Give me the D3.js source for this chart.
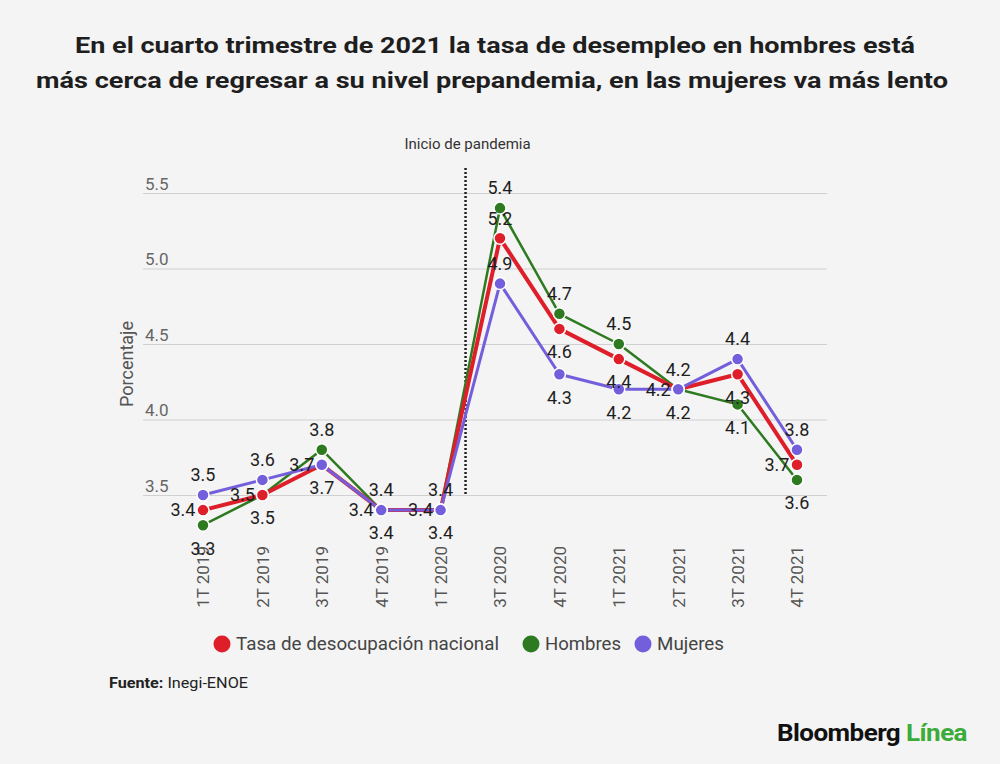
<!DOCTYPE html>
<html>
<head>
<meta charset="utf-8">
<script src="https://cdn.jsdelivr.net/npm/d3@7"></script>
<style>
  body { margin: 0; background: #f4f4f4; }
  svg { font-family: Roboto, 'Noto Sans', sans-serif; display: block; }
</style>
</head>
<body>
<svg width="1000" height="764"></svg>
<script>
const quarters = ['1T 2019', '2T 2019', '3T 2019', '4T 2019', '1T 2020', '3T 2020', '4T 2020', '1T 2021', '2T 2021', '3T 2021', '4T 2021'];
const nacional = [3.4, 3.5, 3.7, 3.4, 3.4, 5.2, 4.6, 4.4, 4.2, 4.3, 3.7];
const hombres  = [3.3, 3.5, 3.8, 3.4, 3.4, 5.4, 4.7, 4.5, 4.2, 4.1, 3.6];
const mujeres  = [3.5, 3.6, 3.7, 3.4, 3.4, 4.9, 4.3, 4.2, 4.2, 4.4, 3.8];
const yTicks = [3.5, 4.0, 4.5, 5.0, 5.5];
const seriesNames = ['Tasa de desocupación nacional', 'Hombres', 'Mujeres'];

// where each value label sits relative to its dot
const nacionalSide = ['left', 'left', 'left', 'left', 'left', 'above', 'below', 'below', 'left', 'below', 'left'];
const hombresSide  = ['below', 'below', 'above', 'above', 'above', 'above', 'above', 'above', 'above', 'below', 'below'];
const mujeresSide  = ['above', 'above', 'below', 'below', 'below', 'above', 'below', 'below', 'below', 'above', 'above'];

const svg = d3.select('svg');

const series = [
  { name: seriesNames[1], values: hombres, side: hombresSide, color: '#2e7a20', width: 2.5 },
  { name: seriesNames[0], values: nacional, side: nacionalSide, color: '#de1f2a', width: 4 },
  { name: seriesNames[2], values: mujeres, side: mujeresSide, color: '#735fdc', width: 3 }
];

const xScale = d3.scalePoint()
  .domain(quarters)
  .range([203, 797]);

const yScale = d3.scaleLinear()
  .domain([3.5, 5.5])
  .range([495, 193]);

// title
const title = svg.append('g')
  .attr('font-weight', 'bold')
  .attr('font-size', 22)
  .attr('fill', '#1e1e1e')
  .attr('text-anchor', 'middle');
title.append('text')
  .attr('x', 495).attr('y', 53)
  .attr('textLength', 840).attr('lengthAdjust', 'spacingAndGlyphs')
  .text('En el cuarto trimestre de 2021 la tasa de desempleo en hombres está');
title.append('text')
  .attr('x', 492).attr('y', 88)
  .attr('textLength', 912).attr('lengthAdjust', 'spacingAndGlyphs')
  .text('más cerca de regresar a su nivel prepandemia, en las mujeres va más lento');

// y grid + ticks
const yAxis = d3.axisLeft(yScale)
  .tickValues(yTicks)
  .tickSize(-(827 - 143))
  .tickFormat(d3.format('.1f'));

const yAxisG = svg.append('g')
  .attr('transform', 'translate(143,0)')
  .call(yAxis);
yAxisG.select('.domain').remove();
yAxisG.selectAll('.tick line').attr('stroke', '#d0d0d0').attr('stroke-width', 1);
yAxisG.selectAll('.tick text')
  .attr('x', 2).attr('dy', -4)
  .attr('text-anchor', 'start')
  .attr('font-size', 17)
  .attr('fill', '#666')
  .attr('font-family', 'Roboto, sans-serif');

svg.append('text')
  .attr('transform', 'translate(133,364) rotate(-90)')
  .attr('text-anchor', 'middle')
  .attr('font-size', 18)
  .attr('fill', '#555')
  .text('Porcentaje');

// x axis labels
const xAxis = d3.axisBottom(xScale).tickSize(0);
const xAxisG = svg.append('g')
  .attr('transform', 'translate(0,545)')
  .call(xAxis);
xAxisG.select('.domain').remove();
xAxisG.selectAll('.tick text')
  .attr('transform', 'rotate(-90)')
  .attr('x', -1).attr('y', 0).attr('dy', '0.35em')
  .attr('text-anchor', 'end')
  .attr('font-size', 17)
  .attr('fill', '#555')
  .attr('font-family', 'Roboto, sans-serif');

// pandemic marker
const step = xScale.step();
const markX = xScale('1T 2020') + step * 0.42;
svg.append('line')
  .attr('x1', markX).attr('x2', markX)
  .attr('y1', 168).attr('y2', yScale(3.5))
  .attr('stroke', '#222')
  .attr('stroke-width', 2.5)
  .attr('stroke-dasharray', '2,2');
svg.append('text')
  .attr('x', markX + 2).attr('y', 149)
  .attr('text-anchor', 'middle')
  .attr('font-size', 15)
  .attr('fill', '#333')
  .text('Inicio de pandemia');

// lines
const line = d3.line()
  .x((d, i) => xScale(quarters[i]))
  .y(d => yScale(d));

series.forEach(s => {
  svg.append('path')
    .datum(s.values)
    .attr('fill', 'none')
    .attr('stroke', s.color)
    .attr('stroke-width', s.width)
    .attr('stroke-linejoin', 'round')
    .attr('d', line);
});

series.forEach(s => {
  svg.append('g').selectAll('circle')
    .data(s.values)
    .enter().append('circle')
      .attr('cx', (d, i) => xScale(quarters[i]))
      .attr('cy', d => yScale(d))
      .attr('r', 6)
      .attr('fill', s.color)
      .attr('stroke', '#fff')
      .attr('stroke-width', 1.5);
});

// value labels
const labelX = (d, i, side) => xScale(quarters[i]) + (side === 'left' ? -20 : 0);
const labelY = (d, side) => yScale(d) + (side === 'above' ? -20 : side === 'below' ? 23 : 0);

series.forEach(s => {
  svg.append('g').selectAll('text')
    .data(s.values)
    .enter().append('text')
      .attr('x', (d, i) => labelX(d, i, s.side[i]))
      .attr('y', (d, i) => labelY(d, s.side[i]))
      .attr('dy', '0.35em')
      .attr('text-anchor', 'middle')
      .attr('font-size', 18)
      .attr('fill', '#1e1e1e')
      .text(d => d3.format('.1f')(d));
});

// legend
const legendItems = [
  { name: seriesNames[0], color: '#de1f2a', x: 222, len: 263 },
  { name: seriesNames[1], color: '#2e7a20', x: 531, len: 76 },
  { name: seriesNames[2], color: '#735fdc', x: 643, len: 67 }
];
const legend = svg.append('g');
legendItems.forEach(it => {
  legend.append('circle')
    .attr('cx', it.x).attr('cy', 644).attr('r', 8.5)
    .attr('fill', it.color);
  legend.append('text')
    .attr('x', it.x + 14).attr('y', 644).attr('dy', '0.35em')
    .attr('font-size', 18)
    .attr('fill', '#444')
    .attr('textLength', it.len).attr('lengthAdjust', 'spacingAndGlyphs')
    .text(it.name);
});

// source
const src = svg.append('text')
  .attr('x', 109).attr('y', 688)
  .attr('font-size', 14)
  .attr('fill', '#222')
  .attr('textLength', 139).attr('lengthAdjust', 'spacingAndGlyphs');
src.append('tspan').attr('font-weight', 'bold').text('Fuente:');
src.append('tspan').text(' Inegi-ENOE');

// logo
const logo = svg.append('text')
  .attr('x', 777).attr('y', 741)
  .attr('font-size', 23)
  .attr('font-weight', 'bold')
  .attr('textLength', 190).attr('lengthAdjust', 'spacingAndGlyphs')
  .attr('letter-spacing', -0.5);
logo.append('tspan').attr('fill', '#111').text('Bloomberg ');
logo.append('tspan').attr('fill', '#3bab3a').text('Línea');
</script>
</body>
</html>
